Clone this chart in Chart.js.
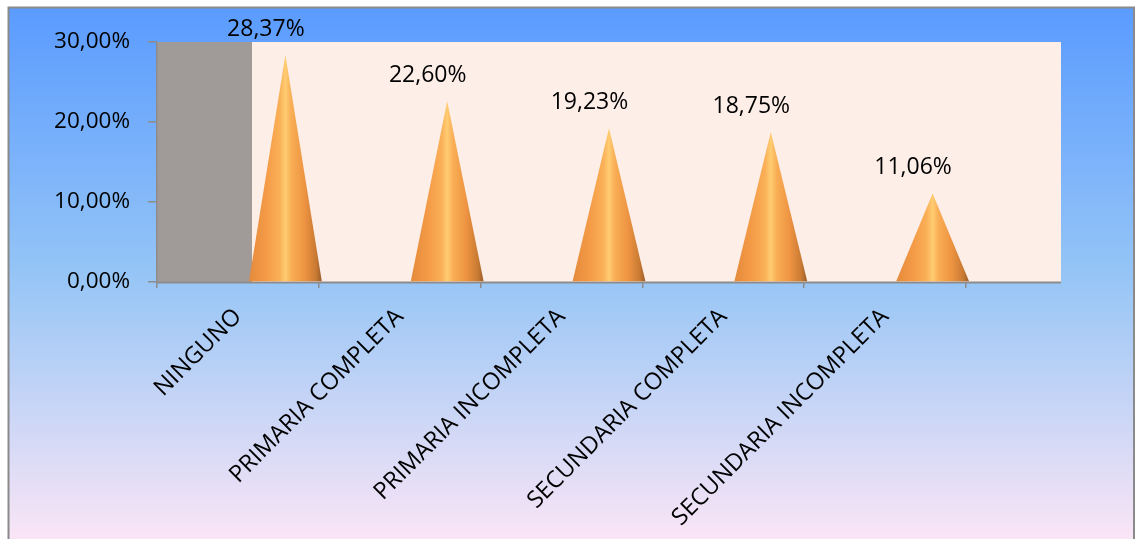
<!DOCTYPE html>
<html>
<head>
<meta charset="utf-8">
<script src="https://cdn.jsdelivr.net/npm/chart.js@4.4.1/dist/chart.umd.min.js"></script>
<style>
  html, body { margin: 0; padding: 0; background: #ffffff; }
  #chart { display: block; }
</style>
</head>
<body>
<canvas id="chart" width="1136" height="539"></canvas>
<script>
// Nivel de instrucción
const categories = [
  'NINGUNO',
  'PRIMARIA COMPLETA',
  'PRIMARIA INCOMPLETA',
  'SECUNDARIA COMPLETA',
  'SECUNDARIA INCOMPLETA'
];
const percentages = [28.37, 22.60, 19.23, 18.75, 11.06];
const yTicks = [0, 10, 20, 30];

const DEPTH = 95;          // horizontal depth of the 3D floor/walls
const FONT = "'Open Sans', 'DejaVu Sans', sans-serif";

const fmt = v => v.toFixed(2).replace('.', ',') + '%';

// Panel background, frame and 3D walls behind the cones
const backdropPlugin = {
  id: 'backdrop',
  beforeDraw(chart) {
    const { ctx, width, height, chartArea: a } = chart;
    ctx.save();
    ctx.fillStyle = '#ffffff';
    ctx.fillRect(0, 0, width, height);
    const g = ctx.createLinearGradient(0, 8, 0, height);
    g.addColorStop(0, '#5a9bff');
    g.addColorStop(0.5, '#95c5f6');
    g.addColorStop(1, '#fae5f6');
    ctx.fillStyle = g;
    ctx.fillRect(9, 8, 1125, height - 8);
    ctx.strokeStyle = '#8a8a8a';
    ctx.lineWidth = 2;
    ctx.beginPath();
    ctx.moveTo(8.5, height);
    ctx.lineTo(8.5, 7.5);
    ctx.lineTo(1134, 7.5);
    ctx.lineTo(1134, height);
    ctx.stroke();

    // side wall and back wall
    ctx.fillStyle = '#a09a98';
    ctx.fillRect(a.left, a.top, DEPTH, a.bottom - a.top);
    ctx.fillStyle = '#fdeee7';
    ctx.fillRect(a.left + DEPTH, a.top, a.right - a.left, a.bottom - a.top);
    // floor edge
    ctx.strokeStyle = '#8c8c8c';
    ctx.lineWidth = 2;
    ctx.beginPath();
    ctx.moveTo(a.left, a.bottom + 0.5);
    ctx.lineTo(a.right + DEPTH, a.bottom + 0.5);
    ctx.stroke();
    ctx.restore();
  }
};

// Draws each bar as a shaded cone set halfway into the floor depth
const conePlugin = {
  id: 'cones',
  afterDatasetsDraw(chart) {
    const { ctx } = chart;
    const meta = chart.getDatasetMeta(0);
    ctx.save();
    meta.data.forEach((bar, i) => {
      const cx = bar.x + DEPTH / 2;
      const half = bar.width / 2;
      const g = ctx.createLinearGradient(cx - half, 0, cx + half, 0);
      g.addColorStop(0, '#e48a3b');
      g.addColorStop(0.25, '#f59c48');
      g.addColorStop(0.42, '#fab057');
      g.addColorStop(0.5, '#ffcc72');
      g.addColorStop(0.58, '#f9ae55');
      g.addColorStop(0.76, '#ee9442');
      g.addColorStop(0.92, '#c97a33');
      g.addColorStop(1, '#9a5c2a');
      ctx.fillStyle = g;
      ctx.beginPath();
      ctx.moveTo(cx - half, bar.base);
      ctx.lineTo(cx, bar.y);
      ctx.lineTo(cx + half, bar.base);
      ctx.closePath();
      ctx.fill();

      ctx.fillStyle = '#000000';
      ctx.font = '23px ' + FONT;
      ctx.textAlign = 'center';
      ctx.textBaseline = 'middle';
      ctx.fillText(fmt(percentages[i]), bar.x + 28, bar.y - 26);
    });
    ctx.restore();
  }
};

new Chart(document.getElementById('chart'), {
  type: 'bar',
  data: {
    labels: categories,
    datasets: [{
      data: percentages,
      backgroundColor: 'rgba(0, 0, 0, 0)',
      borderWidth: 0,
      barPercentage: 0.9,
      categoryPercentage: 0.5
    }]
  },
  options: {
    responsive: false,
    animation: false,
    layout: {
      padding: { top: 42, right: 170, left: 0, bottom: 0 }
    },
    plugins: {
      legend: { display: false },
      tooltip: { enabled: false }
    },
    scales: {
      x: {
        afterFit(scale) { scale.height = 257; },
        border: { display: false },
        grid: {
          drawOnChartArea: false,
          color: '#8c8c8c',
          tickLength: 6,
          lineWidth: 1.5
        },
        ticks: {
          autoSkip: false,
          minRotation: 45,
          maxRotation: 45,
          padding: 15,
          color: '#000000',
          font: { family: FONT, size: 23.5 }
        }
      },
      y: {
        min: 0,
        max: 30,
        afterFit(scale) { scale.width = 157; },
        afterBuildTicks(scale) { scale.ticks = yTicks.map(v => ({ value: v })); },
        border: { display: true, color: '#8c8c8c', width: 1.5 },
        grid: {
          drawOnChartArea: false,
          color: '#8c8c8c',
          tickLength: 9,
          lineWidth: 1.5
        },
        ticks: {
          padding: 18,
          color: '#000000',
          font: { family: FONT, size: 22.5 },
          callback: v => fmt(v)
        }
      }
    }
  },
  plugins: [backdropPlugin, conePlugin]
});
</script>
</body>
</html>
